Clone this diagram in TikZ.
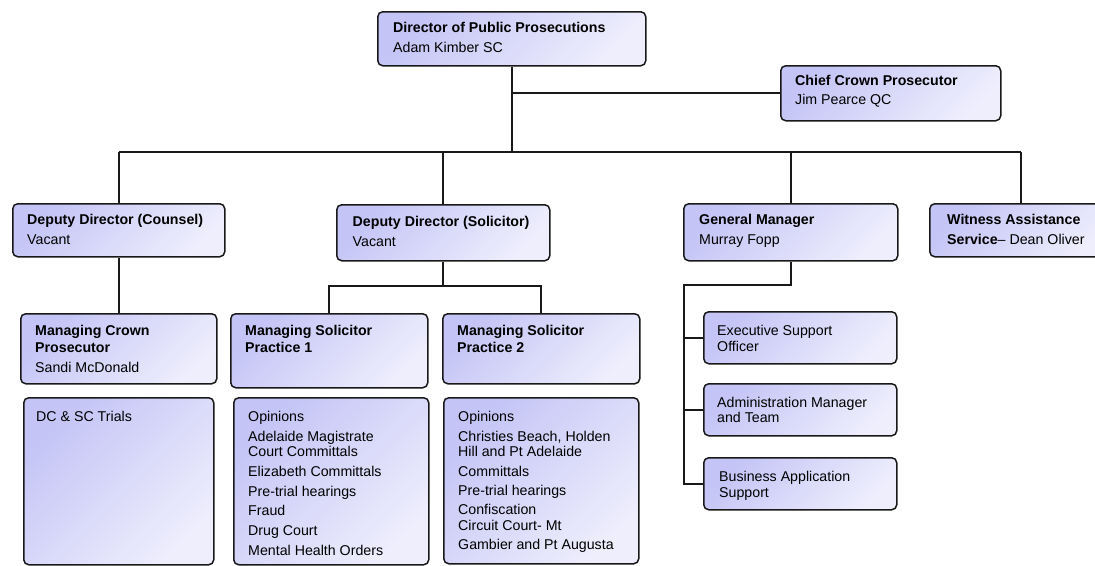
\documentclass[tikz,border=0pt]{standalone}
\usepackage{fontspec}
\setmainfont{Liberation Sans}
\usetikzlibrary{calc}
\definecolor{lavA}{RGB}{196,196,246}
\definecolor{lavB}{RGB}{238,238,253}
\definecolor{edgecol}{RGB}{25,25,25}
\begin{document}
\begin{tikzpicture}[x=1pt,y=-1pt,
  bx/.style={draw=edgecol, line width=1.5pt, rounded corners=5pt,
    top color=lavA, bottom color=lavB, shading angle=45,
    inner sep=0pt, anchor=north west},
  lbl/.style={anchor=north west, align=left, inner sep=0pt,
    font=\fontsize{14.2}{16}\selectfont, text=black,
    execute at begin node={\rule{0pt}{11pt}}},
  wire/.style={line width=1.8pt, draw=edgecol}]
\useasboundingbox (0,0) rectangle (1095,565);
\fill[white] (0,0) rectangle (1095,565);
\clip (0,0) rectangle (1095,565);

% boxes
\node[bx, minimum width=268pt, minimum height=54pt] (dpp) at (377,11) {};
\node[bx, minimum width=220pt, minimum height=55pt] (ccp) at (780,65) {};
\node[bx, minimum width=212pt, minimum height=53pt] (ddc) at (12,203) {};
\node[bx, minimum width=213pt, minimum height=56pt] (dds) at (336,204) {};
\node[bx, minimum width=214pt, minimum height=57pt] (gm) at (683,203) {};
\node[bx, minimum width=182pt, minimum height=53pt] (was) at (929,203) {};
\node[bx, minimum width=196pt, minimum height=70pt] (mcp) at (20,313) {};
\node[bx, minimum width=197pt, minimum height=74pt] (msp1) at (230,313) {};
\node[bx, minimum width=197pt, minimum height=70pt] (msp2) at (442,313) {};
\node[bx, minimum width=193pt, minimum height=52pt] (es) at (703,311) {};
\node[bx, minimum width=193pt, minimum height=52pt] (am) at (703,383) {};
\node[bx, minimum width=193pt, minimum height=52pt] (ba) at (703,457) {};
\node[bx, minimum width=190pt, minimum height=167pt] (dcsc) at (23,397) {};
\node[bx, minimum width=195pt, minimum height=167pt] (ops1) at (233,397) {};
\node[bx, minimum width=195pt, minimum height=166pt] (ops2) at (443,397) {};

% connectors
\coordinate (bus) at (0,152);
\coordinate (sbus) at (0,286);
\coordinate (gmbus) at (684,285);
\draw[wire] (dpp.south) |- (ccp.west);
\draw[wire] (dpp.south) -- (dpp.south |- bus);
\draw[wire] (ddc.north |- bus) -- (was.north |- bus);
\foreach \n in {ddc,dds,gm,was} \draw[wire] (\n.north) -- (\n.north |- bus);
\draw[wire] (ddc.south) -- (mcp.north);
\draw[wire] (dds.south) -- (dds.south |- sbus);
\draw[wire] (msp1.north) -- (msp1.north |- sbus) -- (msp2.north |- sbus) -- (msp2.north);
\draw[wire] (gm.south) |- (gmbus) |- (ba.west);
\draw[wire] (gmbus |- es.west) -- (es.west);
\draw[wire] (gmbus |- am.west) -- (am.west);

% texts (positions = first baseline minus 11)
\node[lbl] (dpp-t) at (393,22.5) {\textbf{Director of Public Prosecutions}\\[4pt]Adam Kimber SC};
\node[lbl] (ccp-t) at (795,75) {\textbf{Chief Crown Prosecutor}\\[3pt]Jim Pearce QC};
\node[lbl] (ddc-t) at (27,214.5) {\textbf{Deputy Director (Counsel)}\\[4pt]Vacant};
\node[lbl] (dds-t) at (352.5,216) {\textbf{Deputy Director (Solicitor)}\\[4pt]Vacant};
\node[lbl] (gm-t) at (699,214) {\textbf{General Manager}\\[4pt]Murray Fopp};
\node[lbl] (was-t) at (947,214.5) {\textbf{Witness Assistance}\\[3.5pt]\textbf{Service}– Dean Oliver};
\node[lbl] (mcp-t) at (35,325) {\textbf{Managing Crown}\\[1pt]\textbf{Prosecutor}\\[4pt]Sandi McDonald};
\node[lbl] (msp1-t) at (245,325) {\textbf{Managing Solicitor}\\[1pt]\textbf{Practice 1}};
\node[lbl] (msp2-t) at (457,325) {\textbf{Managing Solicitor}\\[1pt]\textbf{Practice 2}};
\node[lbl] (es-t) at (717,325) {Executive Support\\Officer};
\node[lbl] (am-t) at (717,396.7) {Administration Manager\\[-0.4pt]and Team};
\node[lbl] (ba-t) at (719,471) {Business Application\\Support};
\node[lbl] (dcsc-t) at (36,410.7) {DC \& SC Trials};
\node[lbl] (ops1-t) at (248,410.7) {Opinions\\[4pt]Adelaide Magistrate\\[-1pt]Court Committals\\[4.3pt]Elizabeth Committals\\[3.7pt]Pre-trial hearings\\[3pt]Fraud\\[4pt]Drug Court\\[4pt]Mental Health Orders};
\node[lbl] (ops2-t) at (458,411) {Opinions\\[4pt]Christies Beach, Holden\\[-1pt]Hill and Pt Adelaide\\[4pt]Committals\\[3pt]Pre-trial hearings\\[3pt]Confiscation\\[0pt]Circuit Court- Mt\\[3pt]Gambier and Pt Augusta};
\end{tikzpicture}
\end{document}
